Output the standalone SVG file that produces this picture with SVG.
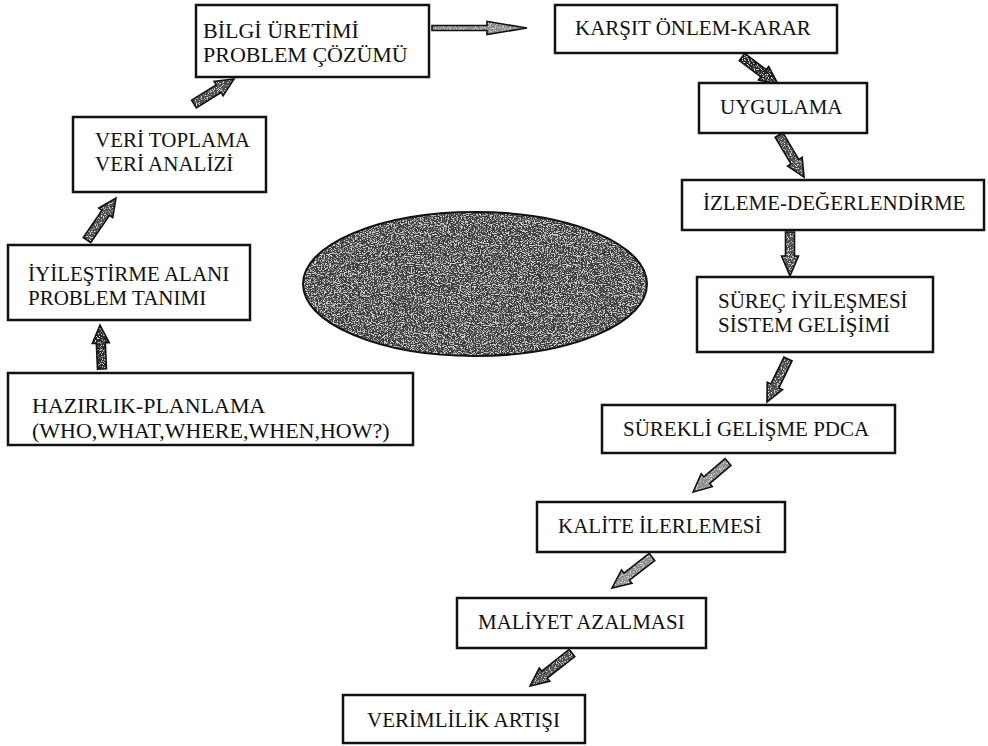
<svg xmlns="http://www.w3.org/2000/svg" xmlns:xlink="http://www.w3.org/1999/xlink" width="988" height="746" viewBox="0 0 988 746">
  <style>
    .box { fill: #ffffff; stroke: #111111; stroke-width: 2.5; }
    .lbl { font-family: "Liberation Serif", "Times New Roman", serif; font-size: 21px; fill: #111111; }
    .big { font-size: 22px; }
    .afill { stroke: none; filter: url(#grain); }
    .dark { fill: #262626; }
    .mid { fill: #4a4a4a; }
    .light { fill: #8a8a8a; }
    .aline { fill: none; stroke: #111111; stroke-width: 1.6; stroke-linejoin: miter; }
  </style>
  <defs>
    <!-- speckled print texture used by the block arrows -->
    <filter id="grain" x="0%" y="0%" width="100%" height="100%" color-interpolation-filters="sRGB">
      <feTurbulence type="fractalNoise" baseFrequency="0.85" numOctaves="2" seed="7" result="noise"/>
      <feColorMatrix in="noise" type="matrix" values="0 0 0 0 0.85  0 0 0 0 0.85  0 0 0 0 0.85  7 0 0 0 -3.6" result="specks"/>
      <feComposite in="specks" in2="SourceGraphic" operator="in" result="clipped"/>
      <feMerge>
        <feMergeNode in="SourceGraphic"/>
        <feMergeNode in="clipped"/>
      </feMerge>
    </filter>
    <!-- denser, slightly streaky texture for the ellipse -->
    <filter id="grain2" x="0%" y="0%" width="100%" height="100%" color-interpolation-filters="sRGB">
      <feTurbulence type="fractalNoise" baseFrequency="0.7 1.1" numOctaves="2" seed="11" result="noise"/>
      <feColorMatrix in="noise" type="matrix" values="0 0 0 0 0.82  0 0 0 0 0.82  0 0 0 0 0.82  6 0 0 0 -2.8" result="specks"/>
      <feComposite in="specks" in2="SourceGraphic" operator="in" result="clipped"/>
      <feMerge>
        <feMergeNode in="SourceGraphic"/>
        <feMergeNode in="clipped"/>
      </feMerge>
    </filter>

    <!-- block arrow shapes: tail at local origin, pointing along +x -->
    <g id="a-top" transform="translate(432,28)"><path d="M0,-2.5 H55 V-6.5 L95,0 L55,6.5 V2.5 H0 Z"/></g>
    <g id="a-k-u" transform="translate(742,57) rotate(36.9)"><path d="M0,-4.5 H27 V-8.5 L45,0 L27,8.5 V4.5 H0 Z"/></g>
    <g id="a-u-i" transform="translate(779,135) rotate(59.2)"><path d="M0,-4.5 H31 V-8.5 L49,0 L31,8.5 V4.5 H0 Z"/></g>
    <g id="a-i-s" transform="translate(790,232) rotate(90)"><path d="M0,-4.5 H24 V-8.5 L44,0 L24,8.5 V4.5 H0 Z"/></g>
    <g id="a-s-g" transform="translate(788,359) rotate(116)"><path d="M0,-4.5 H30 V-8.5 L48,0 L30,8.5 V4.5 H0 Z"/></g>
    <g id="a-g-k" transform="translate(728,462) rotate(139.4)"><path d="M0,-4.5 H28 V-8.5 L46,0 L28,8.5 V4.5 H0 Z"/></g>
    <g id="a-k-m" transform="translate(652,557) rotate(142.2)"><path d="M0,-4.5 H32 V-8.5 L50.6,0 L32,8.5 V4.5 H0 Z"/></g>
    <g id="a-m-v" transform="translate(572,653) rotate(141.8)"><path d="M0,-4.5 H35 V-8.5 L53.4,0 L35,8.5 V4.5 H0 Z"/></g>
    <g id="a-h-y" transform="translate(102,369) rotate(-92.6)"><path d="M0,-4.5 H26 V-8.5 L44,0 L26,8.5 V4.5 H0 Z"/></g>
    <g id="a-y-v" transform="translate(87,240) rotate(-55.4)"><path d="M0,-4.5 H33 V-8.5 L51,0 L33,8.5 V4.5 H0 Z"/></g>
    <g id="a-v-b" transform="translate(194,104) rotate(-32)"><path d="M0,-4.5 H29 V-8.5 L47.2,0 L29,8.5 V4.5 H0 Z"/></g>
  </defs>

  <rect width="988" height="746" fill="#ffffff"/>

  <!-- central shaded ellipse -->
  <g id="center-ellipse">
    <ellipse cx="475" cy="284" rx="172" ry="72" fill="#3a3a3a" filter="url(#grain2)"/>
    <ellipse cx="475" cy="284" rx="172" ry="72" fill="none" stroke="#111111" stroke-width="2"/>
  </g>

  <!-- connectors -->
  <g id="connectors">
    <use xlink:href="#a-top" class="afill light"/>
    <use xlink:href="#a-k-u" class="afill dark"/>
    <use xlink:href="#a-u-i" class="afill mid"/>
    <use xlink:href="#a-i-s" class="afill mid"/>
    <use xlink:href="#a-s-g" class="afill mid"/>
    <use xlink:href="#a-g-k" class="afill light"/>
    <use xlink:href="#a-k-m" class="afill light"/>
    <use xlink:href="#a-m-v" class="afill mid"/>
    <use xlink:href="#a-h-y" class="afill dark"/>
    <use xlink:href="#a-y-v" class="afill mid"/>
    <use xlink:href="#a-v-b" class="afill mid"/>

    <use xlink:href="#a-top" class="aline"/>
    <use xlink:href="#a-k-u" class="aline"/>
    <use xlink:href="#a-u-i" class="aline"/>
    <use xlink:href="#a-i-s" class="aline"/>
    <use xlink:href="#a-s-g" class="aline"/>
    <use xlink:href="#a-g-k" class="aline"/>
    <use xlink:href="#a-k-m" class="aline"/>
    <use xlink:href="#a-m-v" class="aline"/>
    <use xlink:href="#a-h-y" class="aline"/>
    <use xlink:href="#a-y-v" class="aline"/>
    <use xlink:href="#a-v-b" class="aline"/>
  </g>

  <!-- left column, bottom to top -->
  <g id="n-hazirlik">
    <rect class="box" x="8" y="373" width="405" height="72"/>
    <text class="lbl big" x="32" y="413">HAZIRLIK-PLANLAMA</text>
    <text class="lbl big" x="32" y="438">(WHO,WHAT,WHERE,WHEN,HOW?)</text>
  </g>
  <g id="n-iyilestirme">
    <rect class="box" x="8" y="245" width="242" height="75"/>
    <text class="lbl" x="28" y="281">İYİLEŞTİRME ALANI</text>
    <text class="lbl" x="28" y="305">PROBLEM TANIMI</text>
  </g>
  <g id="n-veri">
    <rect class="box" x="73" y="117" width="193" height="75"/>
    <text class="lbl" x="95" y="147">VERİ TOPLAMA</text>
    <text class="lbl" x="95" y="171">VERİ ANALİZİ</text>
  </g>
  <g id="n-bilgi">
    <rect class="box" x="196" y="5" width="233" height="72"/>
    <text class="lbl big" x="203" y="38">BİLGİ ÜRETİMİ</text>
    <text class="lbl big" x="203" y="62">PROBLEM ÇÖZÜMÜ</text>
  </g>

  <!-- right column, top to bottom -->
  <g id="n-karsit">
    <rect class="box" x="555" y="5" width="282" height="48"/>
    <text class="lbl" x="575" y="35">KARŞIT ÖNLEM-KARAR</text>
  </g>
  <g id="n-uygulama">
    <rect class="box" x="699" y="83" width="168" height="50"/>
    <text class="lbl" x="720" y="114">UYGULAMA</text>
  </g>
  <g id="n-izleme">
    <rect class="box" x="682" y="180" width="302" height="50"/>
    <text class="lbl" x="703" y="210">İZLEME-DEĞERLENDİRME</text>
  </g>
  <g id="n-surec">
    <rect class="box" x="697" y="277" width="236" height="75"/>
    <text class="lbl" x="718" y="308">SÜREÇ İYİLEŞMESİ</text>
    <text class="lbl" x="718" y="332">SİSTEM GELİŞİMİ</text>
  </g>
  <g id="n-surekli">
    <rect class="box" x="602" y="405" width="293" height="48"/>
    <text class="lbl" x="623" y="436">SÜREKLİ GELİŞME PDCA</text>
  </g>
  <g id="n-kalite">
    <rect class="box" x="537" y="502" width="248" height="50"/>
    <text class="lbl" x="558" y="533">KALİTE İLERLEMESİ</text>
  </g>
  <g id="n-maliyet">
    <rect class="box" x="457" y="598" width="249" height="50"/>
    <text class="lbl" x="478" y="629">MALİYET AZALMASI</text>
  </g>
  <g id="n-verimlilik">
    <rect class="box" x="343" y="695" width="242" height="48"/>
    <text class="lbl" x="367" y="727">VERİMLİLİK ARTIŞI</text>
  </g>
</svg>
